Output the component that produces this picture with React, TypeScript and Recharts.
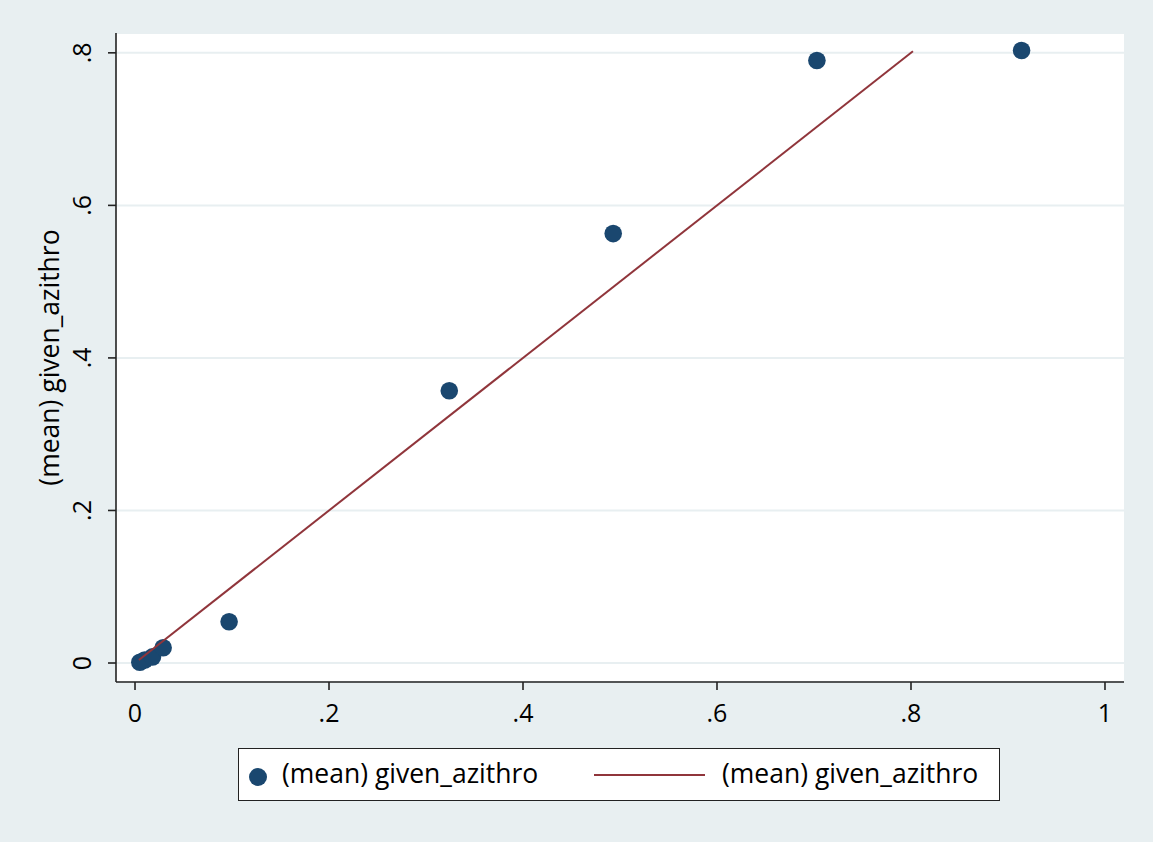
import React from "react";
import { ScatterChart, Scatter, XAxis, YAxis, CartesianGrid } from "recharts";

const pointX = [0.005, 0.010, 0.018, 0.029, 0.097, 0.324, 0.493, 0.703, 0.914];
const pointY = [0.001, 0.004, 0.008, 0.020, 0.054, 0.357, 0.563, 0.790, 0.803];
const lineX = [0.004, 0.802];
const lineY = [0.004, 0.802];
const xTicks = [0, 0.2, 0.4, 0.6, 0.8, 1];
const yTicks = [0, 0.2, 0.4, 0.6, 0.8];
const seriesName = "(mean) given_azithro";

const points = pointX.map((x, i) => ({ x, y: pointY[i] }));
const linePts = lineX.map((x, i) => ({ x, y: lineY[i] }));

const FONT = "'Open Sans', 'Noto Sans', sans-serif";
const DOT = "#1a476f";
const LINE = "#90353b";
const BG = "#e8eff1";
const TICKFS = 25;
const TEXTFS = 26.5;

const fmt = (v: number) => (v === 0 ? "0" : v === 1 ? "1" : String(v).replace(/^0/, ""));

const XTick = (props: any) => {
  const { x, y, payload } = props;
  return (
    <text x={x} y={y} dy={32} textAnchor="middle" fontFamily={FONT} fontSize={TICKFS} fill="#000">
      {fmt(payload.value)}
    </text>
  );
};

const YTick = (props: any) => {
  const { x, y, payload } = props;
  const bx = x - 17;
  return (
    <text x={bx} y={y} transform={`rotate(-90, ${bx}, ${y})`} textAnchor="middle" fontFamily={FONT} fontSize={TICKFS} fill="#000">
      {fmt(payload.value)}
    </text>
  );
};

const YLabel = (props: any) => {
  const vb = props.viewBox || {};
  const lx = vb.x + 43;
  const ly = vb.y + vb.height / 2;
  return (
    <text x={lx} y={ly} transform={`rotate(-90, ${lx}, ${ly})`} textAnchor="middle" fontFamily={FONT} fontSize={TEXTFS} fill="#000">
      {seriesName}
    </text>
  );
};

export default function App() {
  return (
    <div style={{ position: "absolute", left: 0, top: 0, width: 1153, height: 842, background: BG }}>
      <ScatterChart width={1153} height={842} margin={{ top: 33, right: 29, left: 16, bottom: 100 }}>
        <CartesianGrid vertical={false} fill="#ffffff" stroke="#e8eff1" strokeWidth={2} />
        <XAxis
          type="number"
          dataKey="x"
          domain={[-0.0196, 1.0196]}
          ticks={xTicks}
          allowDataOverflow
          height={60}
          tickSize={8}
          tickMargin={0}
          tick={<XTick />}
          axisLine={{ stroke: "#222", strokeWidth: 1.6 }}
          tickLine={{ stroke: "#222", strokeWidth: 1.6 }}
        />
        <YAxis
          type="number"
          dataKey="y"
          domain={[-0.0249, 0.826]}
          ticks={yTicks}
          allowDataOverflow
          width={100}
          tickSize={8}
          tickMargin={0}
          tick={<YTick />}
          axisLine={{ stroke: "#222", strokeWidth: 1.6 }}
          tickLine={{ stroke: "#222", strokeWidth: 1.6 }}
          label={{ content: YLabel }}
        />
        <Scatter data={points} fill={DOT} isAnimationActive={false} shape={(p: any) => <circle cx={p.cx} cy={p.cy} r={8.8} fill={DOT} />} />
        <Scatter
          data={linePts}
          line={{ stroke: LINE, strokeWidth: 2 }}
          lineType="joint"
          shape={() => <g />}
          isAnimationActive={false}
        />
      </ScatterChart>
      <div
        style={{
          position: "absolute",
          left: 238,
          top: 748,
          width: 760,
          height: 51,
          background: "#fff",
          border: "1.5px solid #222",
        }}
      >
        <svg width={760} height={51} style={{ position: "absolute", left: 0, top: 0 }}>
          <circle cx={19} cy={28} r={9} fill={DOT} />
          <text x={43} y={34} fontFamily={FONT} fontSize={TEXTFS} fill="#000">{seriesName}</text>
          <line x1={355} x2={466} y1={26} y2={26} stroke={LINE} strokeWidth={2.2} />
          <text x={483} y={34} fontFamily={FONT} fontSize={TEXTFS} fill="#000">{seriesName}</text>
        </svg>
      </div>
    </div>
  );
}
